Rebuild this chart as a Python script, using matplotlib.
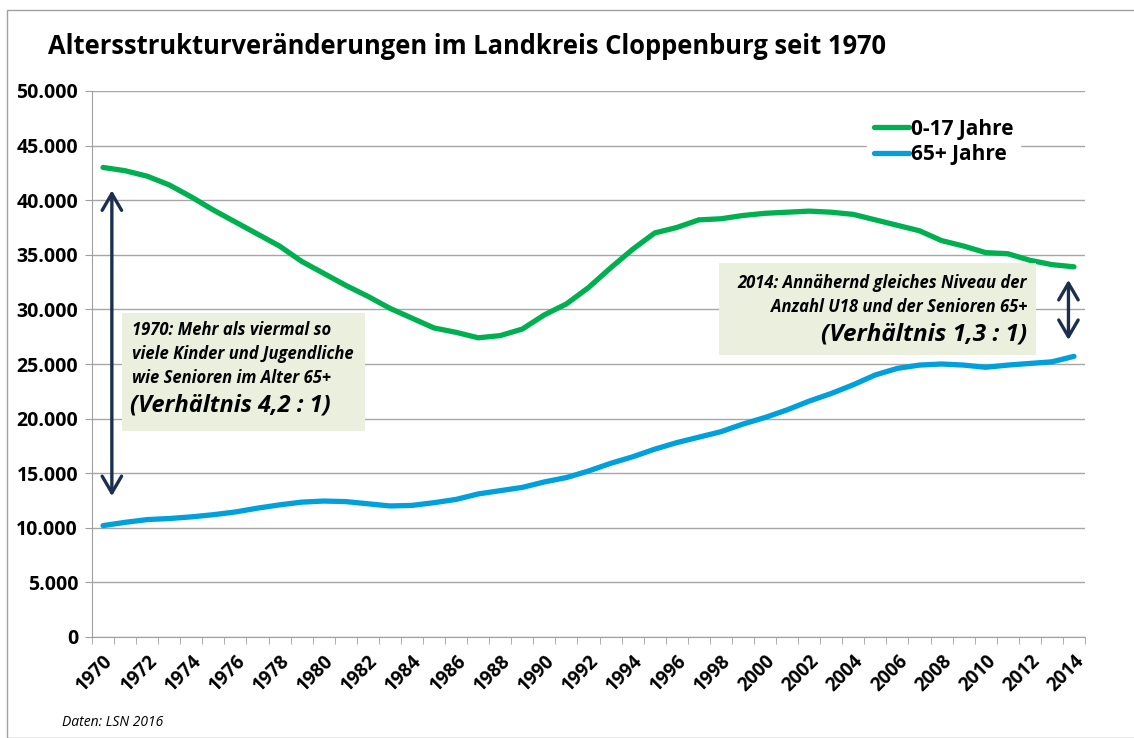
"""
Altersstruktur im Landkreis Cloppenburg, 1970-2014.
"""

import matplotlib

matplotlib.use("Agg")
import matplotlib.pyplot as plt
from matplotlib.patches import Rectangle, FancyArrowPatch
from matplotlib.ticker import FuncFormatter

plt.rcParams["font.family"] = ["Open Sans", "DejaVu Sans"]

years = list(range(1970, 2015))
kids = [43.0, 42.7, 42.2, 41.4, 40.3, 39.1, 38.0, 36.9, 35.8, 34.4,
        33.3, 32.2, 31.2, 30.1, 29.2, 28.3, 27.9, 27.4, 27.6, 28.2,
        29.5, 30.5, 32.0, 33.8, 35.5, 37.0, 37.5, 38.2, 38.3, 38.6,
        38.8, 38.9, 39.0, 38.9, 38.7, 38.2, 37.7, 37.2, 36.3, 35.8,
        35.2, 35.1, 34.5, 34.1, 33.9]
seniors = [10.2, 10.5, 10.75, 10.85, 11.0, 11.2, 11.45, 11.8, 12.1, 12.35,
           12.45, 12.4, 12.2, 12.0, 12.05, 12.3, 12.6, 13.1, 13.4, 13.7,
           14.2, 14.6, 15.2, 15.9, 16.5, 17.2, 17.8, 18.3, 18.8, 19.5,
           20.1, 20.8, 21.6, 22.3, 23.1, 24.0, 24.6, 24.9, 25.0, 24.9,
           24.7, 24.9, 25.05, 25.2, 25.7]
kids = [v * 1000 for v in kids]
seniors = [v * 1000 for v in seniors]

W, H = 1134, 738
fig = plt.figure(figsize=(W / 100, H / 100), dpi=100)

# chart border
fig.patches.append(Rectangle((7 / W, 0), 2, 1 - 10 / H, transform=fig.transFigure,
                             fill=False, edgecolor="#a0a0a0", linewidth=1))

ax = fig.add_axes([92 / W, 1 - 637 / H, (1085 - 92) / W, (637 - 91) / H])

ax.plot(years, kids, color="#00b050", linewidth=3.8, solid_capstyle="round",
        label="0-17 Jahre", zorder=3)
ax.plot(years, seniors, color="#00a0dc", linewidth=3.8, solid_capstyle="round",
        label="65+ Jahre", zorder=3)

ax.set_xlim(1969.5, 2014.5)
ax.set_ylim(0, 50000)
ax.set_yticks(range(0, 50001, 5000))
ax.yaxis.set_major_formatter(FuncFormatter(lambda v, p: f"{int(v):,}".replace(",", ".")))
ax.grid(axis="y", color="#a6a6a6", linewidth=1)
ax.set_axisbelow(True)

ax.set_xticks(years[::2])
ax.set_xticklabels([str(y) for y in years[::2]], rotation=45, ha="right",
                   rotation_mode="anchor", fontweight="bold", fontsize=13.5)
ax.set_xticks([y - 0.5 for y in years] + [2014.5], minor=True)
ax.tick_params(axis="x", which="major", length=0, pad=10)
ax.tick_params(axis="x", which="minor", length=5, color="#a0a0a0")
ax.tick_params(axis="y", length=5, color="#a0a0a0", labelsize=14, pad=5)
for lab in ax.get_yticklabels():
    lab.set_fontweight("bold")

for side in ["top", "right"]:
    ax.spines[side].set_visible(False)
for side in ["left", "bottom"]:
    ax.spines[side].set_color("#a0a0a0")

leg = ax.legend(loc="upper left", bbox_to_anchor=((857 - 92) / (1085 - 92), 1 - 11 / 546),
                frameon=True, fancybox=False, framealpha=1, edgecolor="white",
                prop={"weight": "bold", "size": 15}, handlelength=1.7,
                handletextpad=0.1, labelspacing=0.2, borderpad=0.3)

# arrows
arrow_kw = dict(arrowstyle="<->,head_length=0.6,head_width=0.35", color="#1c2f4f",
                linewidth=2.4, zorder=4, shrinkA=0, shrinkB=0, mutation_scale=20)
ax.add_patch(FancyArrowPatch((1970.4, 40900), (1970.4, 12900), **arrow_kw))
ax.add_patch(FancyArrowPatch((2013.75, 32700), (2013.75, 27200), **arrow_kw))

box_color = "#ebf0de"
fig.patches.append(Rectangle((122 / W, 1 - 431 / H), (365 - 122) / W, (431 - 313) / H,
                             transform=fig.transFigure, facecolor=box_color,
                             edgecolor="none", zorder=5))
fig.patches.append(Rectangle((719 / W, 1 - 355 / H), (1036 - 719) / W, (355 - 263) / H,
                             transform=fig.transFigure, facecolor=box_color,
                             edgecolor="none", zorder=5))

small = dict(fontsize=12, fontweight="bold", fontstyle="italic", va="center", zorder=6)
big = dict(fontsize=17, fontweight="bold", fontstyle="italic", va="center", zorder=6)
left_lines = ["1970: Mehr als viermal so", "viele Kinder und Jugendliche",
              "wie Senioren im Alter 65+"]
for i, s in enumerate(left_lines):
    fig.text(132 / W, 1 - (330 + 24 * i) / H, s, **small)
fig.text(130 / W, 1 - 405 / H, "(Verhältnis 4,2 : 1)", **big)

right_lines = ["2014: Annähernd gleiches Niveau der", "Anzahl U18 und der Senioren 65+"]
for i, s in enumerate(right_lines):
    fig.text(1027 / W, 1 - (283 + 24 * i) / H, s, ha="right", **small)
fig.text(1027 / W, 1 - 334 / H, "(Verhältnis 1,3 : 1)", ha="right",
         **{**big, "fontsize": 17.5})

fig.text(48 / W, 1 - 47 / H, "Altersstrukturveränderungen im Landkreis Cloppenburg seit 1970",
         fontsize=18.4, fontweight="bold", va="center")
fig.text(62 / W, 1 - 722 / H, "Daten: LSN 2016", fontsize=10, fontstyle="italic", va="center")

fig.savefig("out.png", dpi=100)
